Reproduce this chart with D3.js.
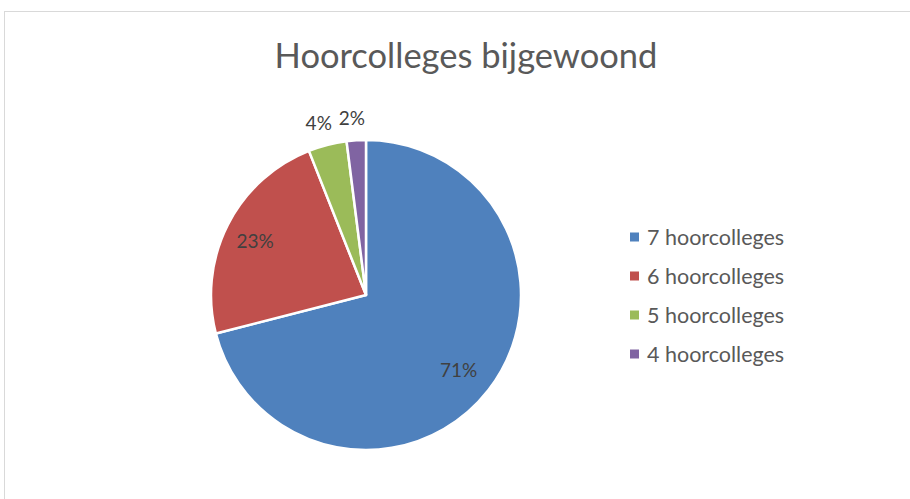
<!DOCTYPE html>
<html>
<head>
<meta charset="utf-8">
<script src="https://cdn.jsdelivr.net/npm/d3@7"></script>
<style>
  html, body { margin: 0; padding: 0; background: #fff; }
  svg { display: block; }
</style>
</head>
<body>
<svg id="chart" width="910" height="499"></svg>
<script>
const categories = ["7 hoorcolleges", "6 hoorcolleges", "5 hoorcolleges", "4 hoorcolleges"];
const values = [71, 23, 4, 2];
const colors = ["#4f81bd", "#c0504d", "#9bbb59", "#8064a2"];
const title = "Hoorcolleges bijgewoond";

const width = 910, height = 499;
const cx = 366, cy = 295, radius = 155;
const font = "Lato, 'Open Sans', sans-serif";

const svg = d3.select("#chart");

// chart area border
svg.append("rect")
  .attr("x", 4.5).attr("y", 11.5)
  .attr("width", width + 10).attr("height", height + 10)
  .attr("fill", "#fff")
  .attr("stroke", "#d9d9d9")
  .attr("stroke-width", 1);

svg.append("text")
  .attr("x", 466).attr("y", 68)
  .attr("text-anchor", "middle")
  .attr("fill", "#595959")
  .style("font-family", font)
  .style("font-size", "34.5px")
  .text(title);

const data = categories.map((c, i) => ({ cat: c, value: values[i], color: colors[i] }));
const total = d3.sum(values);

const pie = d3.pie().sort(null).value((d) => d.value);
const arcs = pie(data);

const arc = d3.arc().innerRadius(0).outerRadius(radius);
const labelArc = d3.arc().innerRadius(121).outerRadius(121);
const outerLabelArc = d3.arc().innerRadius(178).outerRadius(178);

const g = svg.append("g").attr("transform", `translate(${cx},${cy})`);

g.selectAll("path")
  .data(arcs)
  .join("path")
  .attr("d", arc)
  .attr("fill", (d) => d.data.color)
  .attr("stroke", "#fff")
  .attr("stroke-width", 2.5)
  .attr("stroke-linejoin", "round");

// percentage labels, small slices go outside
g.selectAll(".pct")
  .data(arcs)
  .join("text")
  .attr("class", "pct")
  .attr("text-anchor", "middle")
  .attr("dominant-baseline", "central")
  .attr("fill", "#404040")
  .style("font-family", font)
  .style("font-size", "19px")
  .attr("transform", (d) => {
    const share = d.data.value / total;
    const c = share < 0.08 ? outerLabelArc.centroid(d) : labelArc.centroid(d);
    if (share < 0.08) c[0] -= 3;
    else c[0] -= 3;
    return `translate(${c[0]},${c[1]})`;
  })
  .text((d) => `${Math.round((d.data.value / total) * 100)}%`);

// legend
const legend = svg.append("g").attr("transform", "translate(630,237)");
const rows = legend.selectAll("g")
  .data(data)
  .join("g")
  .attr("transform", (d, i) => `translate(0,${i * 39})`);

rows.append("rect")
  .attr("x", 0).attr("y", -4.5)
  .attr("width", 9).attr("height", 9)
  .attr("fill", (d) => d.color);

rows.append("text")
  .attr("x", 17).attr("y", 0)
  .attr("dominant-baseline", "central")
  .attr("fill", "#595959")
  .style("font-family", font)
  .style("font-size", "21.5px")
  .text((d) => d.cat);
</script>
</body>
</html>
